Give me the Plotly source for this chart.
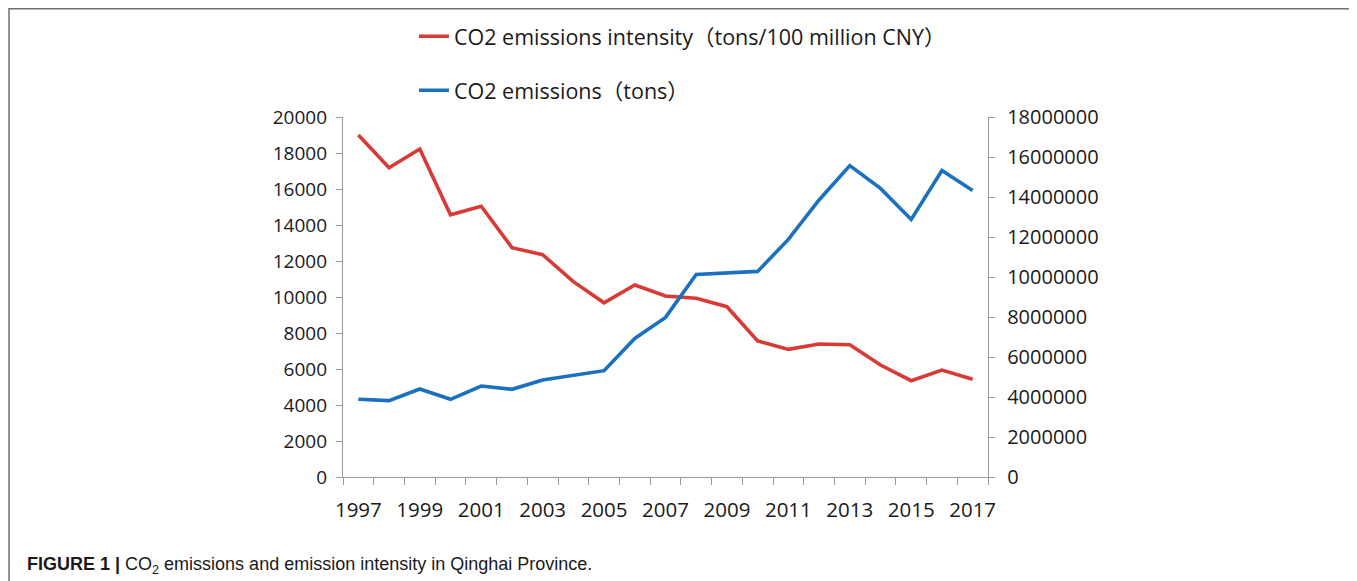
import plotly.graph_objects as go

years = list(range(1997, 2018))
intensity = [19000, 17180, 18220, 14570, 15040, 12740, 12350, 10850, 9680, 10670, 10060,
             9930, 9460, 7560, 7090, 7390, 7350, 6220, 5350, 5940, 5430]
emissions = [3885000, 3817000, 4400000, 3885000, 4550000, 4383000, 4850000, 5100000, 5317000,
             6930000, 7980000, 10130000, 10220000, 10280000, 11880000, 13850000, 15570000,
             14430000, 12880000, 15320000, 14320000]
tick_years = list(range(1997, 2018, 2))

RED = "#d83a35"
BLUE = "#1b70bf"
FONT = "Open Sans, Noto Sans CJK SC, sans-serif"

# the page body has an 8px margin, so the figure is a bit smaller and shifted
fig = go.Figure()
fig.add_trace(go.Scatter(
    x=years, y=intensity, mode="lines", name="CO2 emissions intensity（tons/100 million CNY）",
    line=dict(color=RED, width=3.6), legendgroup="a",
))
fig.add_trace(go.Scatter(
    x=years, y=emissions, mode="lines", name="CO2 emissions（tons）",
    line=dict(color=BLUE, width=3.6), yaxis="y2", legendgroup="b",
))

axis_common = dict(showgrid=False, zeroline=False, showline=True, linecolor="#9a9a9a", linewidth=1.3,
                   ticks="outside", tickcolor="#9a9a9a", ticklen=6, tickformat="d")

fig.update_layout(
    width=1349, height=573,
    margin=dict(l=335, r=369, t=109, b=104, autoexpand=False),
    paper_bgcolor="white", plot_bgcolor="white",
    font=dict(family=FONT, color="#1a1a1a"),
    xaxis=dict(range=[1996.5, 2017.5], tickvals=tick_years, ticklen=0, ticklabelstandoff=14,
               minor=dict(tick0=1996.5, dtick=1, ticks="outside", ticklen=7, tickcolor="#9a9a9a"),
               showgrid=False, zeroline=False, showline=True, linecolor="#9a9a9a", linewidth=1.3,
               ticks="outside", tickcolor="#9a9a9a",
               tickfont=dict(family=FONT, size=20.5, color="#1a1a1a")),
    yaxis=dict(range=[0, 20000], dtick=2000, ticklabelstandoff=5,
               tickfont=dict(family=FONT, size=19, color="#1a1a1a"), **axis_common),
    yaxis2=dict(range=[0, 18000000], dtick=2000000, overlaying="y", side="right",
                ticklabelstandoff=8, tickfont=dict(family=FONT, size=20, color="#1a1a1a"),
                **axis_common),
    showlegend=True,
    legend=dict(x=0.110, y=1.281, xanchor="left", yanchor="top", orientation="v",
                tracegroupgap=23, font=dict(family=FONT, size=21.5, color="#1a1a1a"),
                bgcolor="rgba(0,0,0,0)"),
    shapes=[dict(type="rect", xref="paper", yref="paper", x0=-0.5178, x1=1.5674, y0=-0.33, y1=1.3007,
                 line=dict(color="#707070", width=1.5))],
    annotations=[dict(
        xref="paper", yref="paper", x=-0.493, y=-0.247, xanchor="left", yanchor="middle",
        showarrow=False, align="left",
        text="<b>FIGURE 1 |</b> CO<sub>2</sub> emissions and emission intensity in Qinghai Province.",
        font=dict(family="Liberation Sans Narrow, Liberation Sans, sans-serif", size=18, color="#1a1a1a"),
    )],
)

fig.write_html("out.html")
